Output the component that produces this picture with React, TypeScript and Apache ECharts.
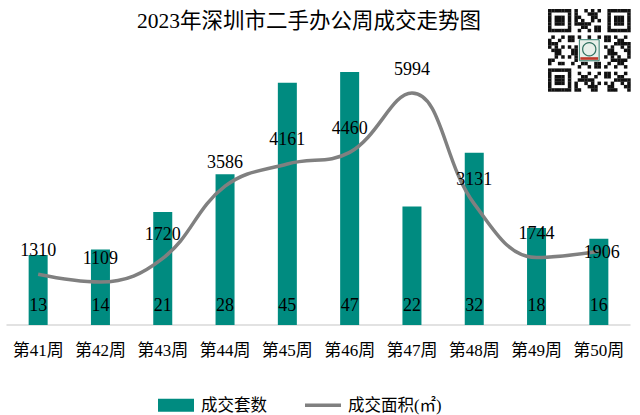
import React, { useEffect, useRef } from "react";
import * as echarts from "echarts";

const categories = ["第41周", "第42周", "第43周", "第44周", "第45周", "第46周", "第47周", "第48周", "第49周", "第50周"];
const dealCounts = [13, 14, 21, 28, 45, 47, 22, 32, 18, 16];
const dealAreas = [1310, 1109, 1720, 3586, 4161, 4460, 5994, 3131, 1744, 1906];
const centeredAreaLabel = [false, false, false, false, false, false, false, false, false, true];

const FONT = "'Liberation Serif', 'DejaVu Serif', 'Noto Sans CJK SC', serif";

function buildQr(): any[] {
  const n = 25;
  const m = 3.3;
  const children: any[] = [
    { type: "rect", shape: { x: 0, y: 0, width: n * m, height: n * m }, style: { fill: "#fff" } },
  ];
  const isFinder = (i: number, j: number) => {
    const corners = [[0, 0], [0, n - 7], [n - 7, 0]];
    for (const [a, b] of corners) {
      if (i >= a && i < a + 7 && j >= b && j < b + 7) {
        const di = i - a, dj = j - b;
        const ring = Math.min(di, dj, 6 - di, 6 - dj);
        return { inside: true, dark: ring === 0 || ring >= 2 };
      }
      if (i >= a - 1 && i <= a + 7 && j >= b - 1 && j <= b + 7) return { inside: true, dark: false };
    }
    return { inside: false, dark: false };
  };
  for (let i = 0; i < n; i++) {
    for (let j = 0; j < n; j++) {
      const f = isFinder(i, j);
      let dark = false;
      if (f.inside) dark = f.dark;
      else if (i >= 9 && i <= 15 && j >= 9 && j <= 15) dark = false;
      else dark = ((i * 31 + j * 17 + i * j * 7) % 11) < 5;
      if (dark) {
        children.push({
          type: "rect",
          shape: { x: j * m, y: i * m, width: m + 0.2, height: m + 0.2 },
          style: { fill: "#111" },
        });
      }
    }
  }
  children.push({
    type: "rect",
    shape: { x: 9.5 * m, y: 9.3 * m, width: 6 * m, height: 6.4 * m },
    style: { fill: "#e8efe9", stroke: "#2f7a6a", lineWidth: 1 },
  });
  children.push({
    type: "circle",
    shape: { cx: 12.5 * m, cy: 12.2 * m, r: 2 * m },
    style: { fill: "none", stroke: "#2f6f5f", lineWidth: 1.2 },
  });
  children.push({
    type: "rect",
    shape: { x: 9.8 * m, y: 14.6 * m, width: 5.4 * m, height: 0.8 * m },
    style: { fill: "#c0392b" },
  });
  return children;
}

export default function App() {
  const ref = useRef<HTMLDivElement>(null);
  useEffect(() => {
    if (!ref.current) return;
    const chart = echarts.init(ref.current, null, { renderer: "svg" });
    chart.setOption({
      animation: false,
      backgroundColor: "#fff",
      textStyle: { fontFamily: FONT },
      title: {
        text: "2023年深圳市二手办公周成交走势图",
        left: 132,
        top: 5,
        textStyle: { fontFamily: FONT, fontSize: 21.5, fontWeight: "normal", color: "#000" },
      },
      graphic: [{ type: "group", x: 548, y: 9, children: buildQr() }],
      legend: {
        left: 153,
        top: 392,
        itemWidth: 36,
        itemHeight: 13,
        itemGap: 38,
        textStyle: { fontFamily: FONT, fontSize: 16.5, color: "#000", padding: [0, 0, 0, 2] },
        data: [
          { name: "成交套数", icon: "rect" },
          { name: "成交面积(㎡)", icon: "path://M0,0 L40,0 L40,4 L0,4 Z", itemStyle: { color: "#808080" } },
        ],
      },
      grid: { left: 7, right: 10, top: 45, bottom: 90, containLabel: false },
      xAxis: {
        type: "category",
        data: categories,
        axisLine: { lineStyle: { color: "#d9d9d9", width: 1.5 } },
        axisTick: { show: false },
        axisLabel: { color: "#000", fontSize: 17, fontFamily: FONT, margin: 17, interval: 0 },
      },
      yAxis: [
        { type: "value", min: 0, max: 52, show: false, splitLine: { show: false } },
        { type: "value", min: 0, max: 7235, show: false, splitLine: { show: false } },
      ],
      series: [
        {
          name: "成交套数",
          type: "bar",
          yAxisIndex: 0,
          data: dealCounts,
          barWidth: 19,
          itemStyle: { color: "#008B80" },
          label: {
            show: true,
            position: "insideBottom",
            distance: 11,
            color: "#000",
            fontSize: 18,
            fontFamily: FONT,
          },
        },
        {
          name: "成交面积(㎡)",
          type: "line",
          yAxisIndex: 1,
          smooth: 0.4,
          symbol: "circle",
          symbolSize: 1,
          showSymbol: true,
          lineStyle: { color: "#808080", width: 3.5 },
          itemStyle: { color: "rgba(128,128,128,0)" },
          data: dealAreas.map((v, i) =>
            centeredAreaLabel[i]
              ? { value: v, label: { position: "inside", offset: [3, 1] } }
              : v
          ),
          label: {
            show: true,
            position: "top",
            distance: 15,
            color: "#000",
            fontSize: 18,
            fontFamily: FONT,
          },
          z: 5,
        },
      ],
    });
    return () => chart.dispose();
  }, []);
  return <div ref={ref} style={{ width: 640, height: 415, position: "absolute", left: 0, top: 0 }} />;
}
